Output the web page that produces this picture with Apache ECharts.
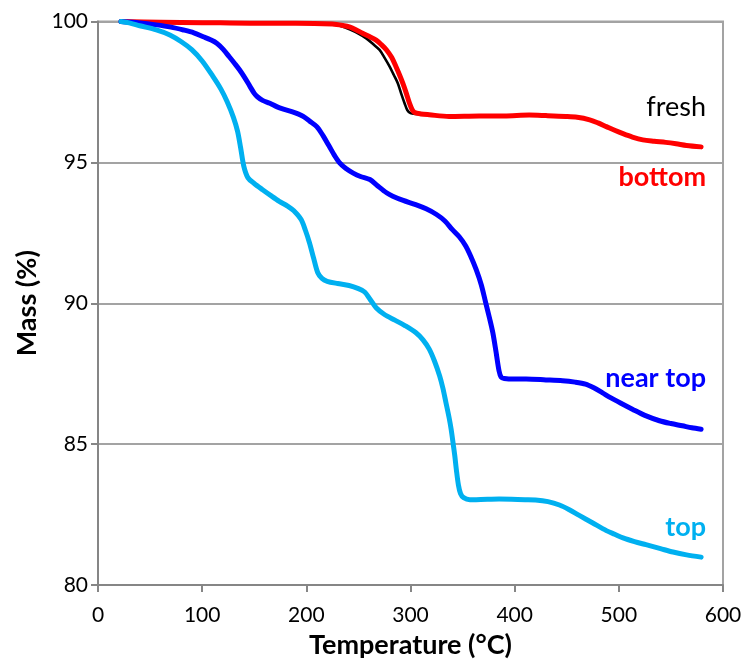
<!DOCTYPE html>
<html>
<head>
<meta charset="utf-8">
<script src="https://cdn.jsdelivr.net/npm/echarts@6/dist/echarts.min.js"></script>
<style>
  html, body { margin: 0; padding: 0; background: #fff; }
  #chart { width: 745px; height: 664px; }
</style>
</head>
<body>
<div id="chart"></div>
<script>
// Thermogravimetric curves: mass (%) versus temperature (°C)

const xTicks = [0, 100, 200, 300, 400, 500, 600];
const yTicks = [80, 85, 90, 95, 100];

// "fresh" sample
const freshT = [22, 100, 190, 225, 233, 241.5, 250, 257.5, 264, 270.3, 275, 280, 284, 287.8, 291, 294.3, 297, 300, 305,
  318, 337, 366, 390, 414, 430, 449, 460, 472, 480, 488, 496, 504, 513, 523, 534, 545, 555, 565, 579];
const freshM = [100, 99.96, 99.94, 99.9, 99.84, 99.72, 99.57, 99.4, 99.2, 98.99, 98.72, 98.4, 98.1, 97.81, 97.45, 97.1, 96.85, 96.75, 96.72,
  96.69, 96.63, 96.65, 96.65, 96.68, 96.66, 96.63, 96.6, 96.51, 96.4, 96.27, 96.14, 96.02, 95.9, 95.8, 95.75, 95.71, 95.66, 95.6, 95.55];

// "bottom" sample
const bottomT = [22, 60, 100, 146, 190, 225, 235, 242, 248, 254, 261, 267, 272, 277, 282, 286, 289.5, 292.6, 296, 299, 301.5, 304,
  310, 318, 337, 366, 390, 414, 430, 449, 460, 472, 480, 488, 496, 504, 513, 523, 534, 545, 555, 565, 579];
const bottomM = [100, 99.97, 99.96, 99.94, 99.94, 99.91, 99.86, 99.8, 99.7, 99.58, 99.46, 99.34, 99.18, 98.99, 98.72, 98.4, 98.1, 97.81, 97.45, 97.1, 96.88, 96.77,
  96.72, 96.69, 96.63, 96.65, 96.65, 96.68, 96.66, 96.63, 96.6, 96.51, 96.4, 96.27, 96.14, 96.02, 95.9, 95.8, 95.75, 95.71, 95.66, 95.6, 95.55];

// "near top" sample
const nearTopT = [22, 40, 56, 70, 82, 92, 101, 108, 114, 120, 126, 131, 136, 141, 146, 150, 153, 158, 165, 172, 178, 186, 192, 197,
  203, 210, 216, 222, 227, 232, 238, 245, 252, 261, 268, 277, 283, 293, 305, 315, 325, 333, 340, 347, 353, 358, 363, 368, 372, 376,
  379, 382, 385, 387, 390, 400, 411, 430, 446, 458, 468, 476, 484, 492, 502, 513, 525, 539, 550, 561, 570, 579];
const nearTopM = [100, 99.95, 99.88, 99.8, 99.7, 99.6, 99.46, 99.35, 99.23, 99.02, 98.75, 98.52, 98.28, 98.0, 97.69, 97.45, 97.33, 97.2, 97.1, 96.97, 96.89, 96.8, 96.72, 96.63,
  96.47, 96.27, 95.95, 95.57, 95.25, 94.98, 94.78, 94.62, 94.5, 94.39, 94.18, 93.92, 93.8, 93.65, 93.5, 93.35, 93.15, 92.92, 92.62, 92.35, 92.03, 91.65, 91.2, 90.65, 90.05, 89.45,
  88.96, 88.3, 87.6, 87.38, 87.33, 87.31, 87.31, 87.28, 87.25, 87.2, 87.13, 87.0, 86.83, 86.65, 86.45, 86.24, 86.02, 85.83, 85.73, 85.65, 85.58, 85.53];

// "top" sample
const topT = [22, 30, 40, 56, 69, 80, 90, 100, 110, 118, 124, 130, 134, 137, 140, 144, 150, 158, 166, 174, 182, 188, 195, 199, 203, 207,
  211, 215, 220, 230, 241, 250, 256, 261, 267, 275, 285, 295, 305, 312, 318, 323, 328, 331, 334, 337, 339, 341, 342.5, 344, 346, 348,
  351, 357, 363, 385, 410, 420, 432, 443, 452, 462, 475, 488, 496, 504, 515, 526, 540, 552, 565, 579];
const topM = [100, 99.95, 99.85, 99.7, 99.52, 99.28, 99.0, 98.6, 98.07, 97.6, 97.15, 96.6, 96.1, 95.5, 94.86, 94.45, 94.25, 94.03, 93.82, 93.62, 93.45, 93.28, 92.97, 92.6, 92.15, 91.6,
  91.08, 90.88, 90.78, 90.7, 90.63, 90.52, 90.4, 90.15, 89.84, 89.6, 89.4, 89.2, 88.96, 88.7, 88.37, 87.95, 87.42, 87.0, 86.48, 85.95, 85.53, 85.0, 84.59, 84.1, 83.55, 83.25,
  83.1, 83.03, 83.03, 83.05, 83.03, 83.02, 82.96, 82.84, 82.68, 82.47, 82.2, 81.93, 81.8, 81.67, 81.54, 81.43, 81.29, 81.17, 81.07, 80.99];

const pairs = (xs, ys) => xs.map((x, i) => [x, ys[i]]);

const FONT = 'Lato, "Open Sans", sans-serif';
const AXIS_GREY = '#868686';
const GRID_GREY = '#a3a3a3';

function curve(name, xs, ys, color, width) {
  return {
    name: name,
    type: 'line',
    data: pairs(xs, ys),
    showSymbol: false,
    symbol: 'none',
    smooth: 0.3,
    lineStyle: { color: color, width: width, cap: 'round', join: 'round' },
    silent: true,
    animation: false
  };
}

const chart = echarts.init(document.getElementById('chart'), null, { renderer: 'canvas' });

chart.setOption({
  backgroundColor: '#ffffff',
  animation: false,
  grid: {
    left: 98, right: 22, top: 21.5, bottom: 78,
    show: true,
    borderColor: GRID_GREY,
    borderWidth: 2,
    backgroundColor: 'transparent'
  },
  xAxis: {
    type: 'value',
    min: xTicks[0], max: xTicks[xTicks.length - 1], interval: 100,
    name: 'Temperature (°C)',
    nameLocation: 'middle',
    nameGap: 47,
    nameTextStyle: { fontFamily: FONT, fontWeight: 'bold', fontSize: 27, color: '#000' },
    axisLine: { show: true, lineStyle: { color: AXIS_GREY, width: 2 } },
    axisTick: { show: true, inside: false, length: 7, lineStyle: { color: AXIS_GREY, width: 2 } },
    axisLabel: { fontFamily: FONT, fontSize: 21, color: '#000', margin: 20 },
    splitLine: { show: false }
  },
  yAxis: {
    type: 'value',
    min: yTicks[0], max: yTicks[yTicks.length - 1], interval: 5,
    name: 'Mass (%)',
    nameLocation: 'middle',
    nameGap: 55,
    nameTextStyle: { fontFamily: FONT, fontWeight: 'bold', fontSize: 27, color: '#000' },
    axisLine: { show: true, lineStyle: { color: AXIS_GREY, width: 2 } },
    axisTick: { show: true, inside: false, length: 7, lineStyle: { color: AXIS_GREY, width: 2 } },
    axisLabel: { fontFamily: FONT, fontSize: 21, color: '#000', margin: 10 },
    splitLine: { show: true, lineStyle: { color: GRID_GREY, width: 2 } }
  },
  series: [
    curve('fresh', freshT, freshM, '#000000', 2.6),
    curve('bottom', bottomT, bottomM, '#ff0000', 5),
    curve('near top', nearTopT, nearTopM, '#0000ff', 5),
    curve('top', topT, topM, '#00b0f0', 5)
  ],
  graphic: [
    { type: 'text', style: { x: 706, y: 107, text: 'fresh', fill: '#000000', font: 'normal 27px ' + FONT, align: 'right', verticalAlign: 'middle' } },
    { type: 'text', style: { x: 706, y: 177, text: 'bottom', fill: '#ff0000', font: 'bold 27px ' + FONT, align: 'right', verticalAlign: 'middle' } },
    { type: 'text', style: { x: 706, y: 378, text: 'near top', fill: '#0000ff', font: 'bold 27px ' + FONT, align: 'right', verticalAlign: 'middle' } },
    { type: 'text', style: { x: 706, y: 527, text: 'top', fill: '#00b0f0', font: 'bold 27px ' + FONT, align: 'right', verticalAlign: 'middle' } }
  ]
});
</script>
</body>
</html>
